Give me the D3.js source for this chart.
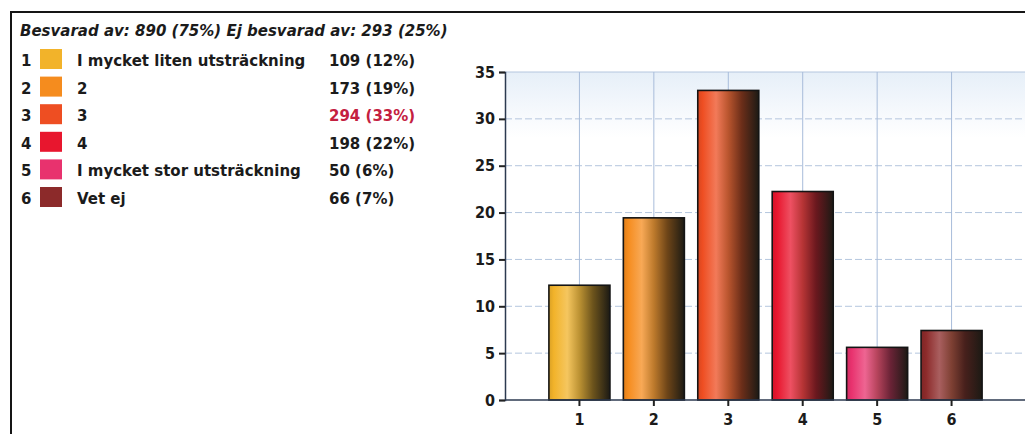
<!DOCTYPE html>
<html>
<head>
<meta charset="utf-8">
<script src="https://cdn.jsdelivr.net/npm/d3@7"></script>
<style>
  html, body { margin: 0; padding: 0; background: #fff; }
  svg { display: block; }
</style>
</head>
<body>
<svg id="chart" width="1025" height="434"></svg>
<script>
// Survey answers for one question
const categories = ["1", "2", "3", "4", "5", "6"];
const answerLabels = [
  "I mycket liten utsträckning",
  "2",
  "3",
  "4",
  "I mycket stor utsträckning",
  "Vet ej"
];
const answerCounts = [109, 173, 294, 198, 50, 66];
const answeredTotal = 890;
const unansweredTotal = 293;
const yTicks = [0, 5, 10, 15, 20, 25, 30, 35];
const swatchColors = ["#f2b32a", "#f58c1e", "#ee4e22", "#e8162e", "#e8326e", "#8c2a2a"];

const pct = answerCounts.map(c => c / answeredTotal * 100);
const fmtPct = v => Math.round(v) + "%";
const topIndex = answerCounts.indexOf(d3.max(answerCounts));
const mix = (a, b, t) => d3.interpolateRgb(a, b)(t);

const svg = d3.select("#chart");
const defs = svg.append("defs");
const ink = "#1b1b1b";
const textFont = "DejaVu Sans, Verdana, sans-serif";

// Outer frame (top and left edge of the report box)
svg.append("path")
  .attr("d", "M11,434 L11,12 L1025,12")
  .attr("fill", "none")
  .attr("stroke", "#151515")
  .attr("stroke-width", 2);

// Response summary heading
const answeredPct = answeredTotal / (answeredTotal + unansweredTotal) * 100;
svg.append("text")
  .attr("x", 20).attr("y", 36)
  .attr("font-family", textFont)
  .attr("font-size", 15)
  .attr("font-weight", "bold")
  .attr("font-style", "italic")
  .attr("fill", ink)
  .text(`Besvarad av: ${answeredTotal} (${fmtPct(answeredPct)}) Ej besvarad av: ${unansweredTotal} (${fmtPct(100 - answeredPct)})`);

// Legend table
const rowY = d3.scaleLinear().domain([0, 1]).range([66, 93.6]);
const legend = svg.append("g")
  .attr("font-family", textFont)
  .attr("font-size", 15)
  .attr("font-weight", "bold");

const rows = legend.selectAll("g.row")
  .data(categories)
  .join("g")
  .attr("class", "row")
  .attr("transform", (d, i) => `translate(0,${rowY(i)})`);

rows.append("text").attr("x", 21).attr("y", 0).attr("fill", ink).text(d => d);
rows.append("rect")
  .attr("x", 40).attr("y", -17).attr("width", 22).attr("height", 20)
  .attr("fill", (d, i) => swatchColors[i]);
rows.append("text").attr("x", 77).attr("y", 0).attr("fill", ink)
  .text((d, i) => answerLabels[i]);
rows.append("text").attr("x", 329).attr("y", 0)
  .attr("fill", (d, i) => i === topIndex ? "#c4203f" : ink)
  .text((d, i) => `${answerCounts[i]} (${fmtPct(pct[i])})`);

// Bar chart
const x = d3.scaleBand()
  .domain(categories)
  .range([505, 1026])
  .paddingInner(0.18)
  .paddingOuter(0.59);
const y = d3.scaleLinear().domain([0, 35]).range([400, 72]);

// Plot background with a pale wash along the top
const bgGrad = defs.append("linearGradient")
  .attr("id", "plot-bg").attr("x1", 0).attr("x2", 0).attr("y1", 0).attr("y2", 1);
bgGrad.append("stop").attr("offset", 0).attr("stop-color", "#e6eff8");
bgGrad.append("stop").attr("offset", 0.1).attr("stop-color", "#f3f7fc");
bgGrad.append("stop").attr("offset", 0.2).attr("stop-color", "#ffffff");
svg.append("rect")
  .attr("x", 505).attr("y", y(35))
  .attr("width", 1025 - 505).attr("height", y(0) - y(35))
  .attr("fill", "url(#plot-bg)");

// Grid
const grid = svg.append("g").attr("stroke", "#b4c6de").attr("stroke-width", 1);
grid.selectAll("line.h")
  .data(yTicks.filter(t => t > 0))
  .join("line")
  .attr("x1", 505).attr("x2", 1025)
  .attr("y1", d => y(d)).attr("y2", d => y(d))
  .attr("stroke-dasharray", d => d === 35 ? null : "7,3");
grid.selectAll("line.v")
  .data(categories)
  .join("line")
  .attr("x1", d => x(d) + x.bandwidth() / 2).attr("x2", d => x(d) + x.bandwidth() / 2)
  .attr("y1", y(35)).attr("y2", y(0))
  .attr("stroke", "#a8bcda");

// Shaded bar fills: base colour on the left, light sheen, then darkening to the right
const dark = "#1c1a14";
const olive = "#6a6040";
categories.forEach((c, i) => {
  const base = swatchColors[i];
  const g = defs.append("linearGradient")
    .attr("id", "bar-grad-" + i)
    .attr("x1", 0).attr("x2", 1).attr("y1", 0).attr("y2", 0);
  const stops = [
    [0, mix(base, "#000", 0.1)],
    [0.08, base],
    [0.3, mix(base, "#ffffff", 0.25)],
    [0.5, mix(base, olive, 0.4)],
    [0.72, mix(base, dark, 0.62)],
    [0.9, mix(base, dark, 0.86)],
    [1, dark]
  ];
  stops.forEach(([o, col]) => g.append("stop").attr("offset", o).attr("stop-color", col));
});

svg.append("g")
  .selectAll("rect")
  .data(categories)
  .join("rect")
  .attr("x", d => x(d))
  .attr("width", x.bandwidth())
  .attr("y", (d, i) => y(pct[i]))
  .attr("height", (d, i) => y(0) - y(pct[i]))
  .attr("fill", (d, i) => `url(#bar-grad-${i})`)
  .attr("stroke", "#141414")
  .attr("stroke-width", 1.6);

// Axes
const axisFont = "DejaVu Sans Condensed, DejaVu Sans, sans-serif";
const yAxis = svg.append("g")
  .attr("transform", "translate(505,0)")
  .call(d3.axisLeft(y).tickValues(yTicks).tickSize(6).tickPadding(4));
yAxis.select(".domain").attr("stroke", "#2c3a50").attr("stroke-width", 1.5);
yAxis.selectAll(".tick line").attr("stroke", "#222").attr("stroke-width", 2);
yAxis.selectAll(".tick text")
  .attr("font-family", axisFont).attr("font-size", 16).attr("font-weight", "bold").attr("fill", ink);

const xAxis = svg.append("g")
  .attr("transform", `translate(0,${y(0)})`)
  .call(d3.axisBottom(x).tickSize(6).tickPadding(8).tickSizeOuter(0));
xAxis.select(".domain")
  .attr("d", `M505,0H1025`)
  .attr("stroke", "#2c3a50").attr("stroke-width", 1.5);
xAxis.selectAll(".tick line").attr("stroke", "#222").attr("stroke-width", 2);
xAxis.selectAll(".tick text")
  .attr("font-family", axisFont).attr("font-size", 16).attr("font-weight", "bold").attr("fill", ink);
</script>
</body>
</html>
